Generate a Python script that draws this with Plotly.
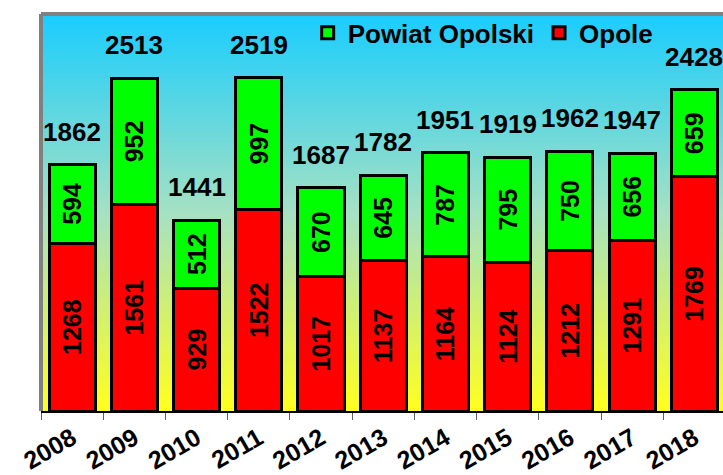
import plotly.graph_objects as go

years = ["2008", "2009", "2010", "2011", "2012", "2013", "2014", "2015", "2016", "2017", "2018"]
opole = [1268, 1561, 929, 1522, 1017, 1137, 1164, 1124, 1212, 1291, 1769]
powiat = [594, 952, 512, 997, 670, 645, 787, 795, 750, 656, 659]
totals = [a + b for a, b in zip(opole, powiat)]

FONT = "Liberation Sans, Arial, sans-serif"
FS_IN = 25
FS = 26

fig = go.Figure()
fig.add_trace(go.Bar(
    x=years, y=opole, name="Opole",
    marker=dict(color="#FF0000", line=dict(color="black", width=3)),
    text=[str(v) for v in opole], textposition="inside", textangle=-90,
    insidetextanchor="middle", constraintext="none",
    textfont=dict(family=FONT, size=FS_IN, color="black", weight="bold"),
))
fig.add_trace(go.Bar(
    x=years, y=powiat, name="Powiat Opolski",
    marker=dict(color="#00FF00", line=dict(color="black", width=3)),
    text=[str(v) for v in powiat], textposition="inside", textangle=-90,
    insidetextanchor="middle", constraintext="none",
    textfont=dict(family=FONT, size=FS_IN, color="black", weight="bold"),
))

for i, t in enumerate(totals):
    fig.add_annotation(x=i, y=t, xref="x", yref="y", text=str(t), showarrow=False,
                       yanchor="bottom", yshift=16,
                       font=dict(family=FONT, size=FS, color="black", weight="bold"))

# gradient background
def lerp(c1, c2, f):
    return tuple(round(a + (b - a) * f) for a, b in zip(c1, c2))

stops = [(0.0, (255, 255, 30)), (0.5, (165, 225, 195)), (1.0, (25, 205, 255))]
N = 80
shapes = []
for i in range(N):
    y0 = i / N
    y1 = (i + 1) / N
    ym = (y0 + y1) / 2
    for j in range(len(stops) - 1):
        if stops[j][0] <= ym <= stops[j + 1][0]:
            f = (ym - stops[j][0]) / (stops[j + 1][0] - stops[j][0])
            c = lerp(stops[j][1], stops[j + 1][1], f)
            break
    shapes.append(dict(type="rect", xref="paper", yref="paper", x0=0, x1=1, y0=y0, y1=y1 + 0.002,
                       fillcolor="rgb(%d,%d,%d)" % c, line=dict(width=0), layer="below"))
# grey frame (left and top)
shapes.append(dict(type="line", xref="paper", yref="paper", x0=0, x1=0, y0=0, y1=1,
                   line=dict(color="#808080", width=4), layer="above"))
shapes.append(dict(type="line", xref="paper", yref="paper", x0=0, x1=1, y0=1, y1=1,
                   line=dict(color="#808080", width=4), layer="above"))

fig.update_layout(
    width=723, height=475,
    margin=dict(l=41, r=0, t=14, b=64),
    paper_bgcolor="white", plot_bgcolor="white",
    barmode="stack", bargap=0.26,
    shapes=shapes,
    showlegend=True,
    legend=dict(orientation="h", x=0.391, xanchor="left", y=1.012, yanchor="top",
                traceorder="reversed", bgcolor="rgba(0,0,0,0)",
                font=dict(family=FONT, size=FS, color="black", weight="bold")),
    xaxis=dict(type="category", range=[-0.5, 10.46], tickangle=-30, automargin=False,
               tickfont=dict(family=FONT, size=FS_IN, color="black", weight="bold"),
               ticklabelstandoff=1,
               showline=True, linecolor="black", linewidth=2,
               ticks="outside", tickson="boundaries", ticklen=7, tickcolor="#606060", tickwidth=1,
               showgrid=False, zeroline=False),
    yaxis=dict(range=[0, 3000], showticklabels=False, showgrid=False, zeroline=False,
               ticks="", showline=False, automargin=False),
)

fig.write_html("out.html", config={"displayModeBar": False},
               post_script="document.body.style.margin='0';")
